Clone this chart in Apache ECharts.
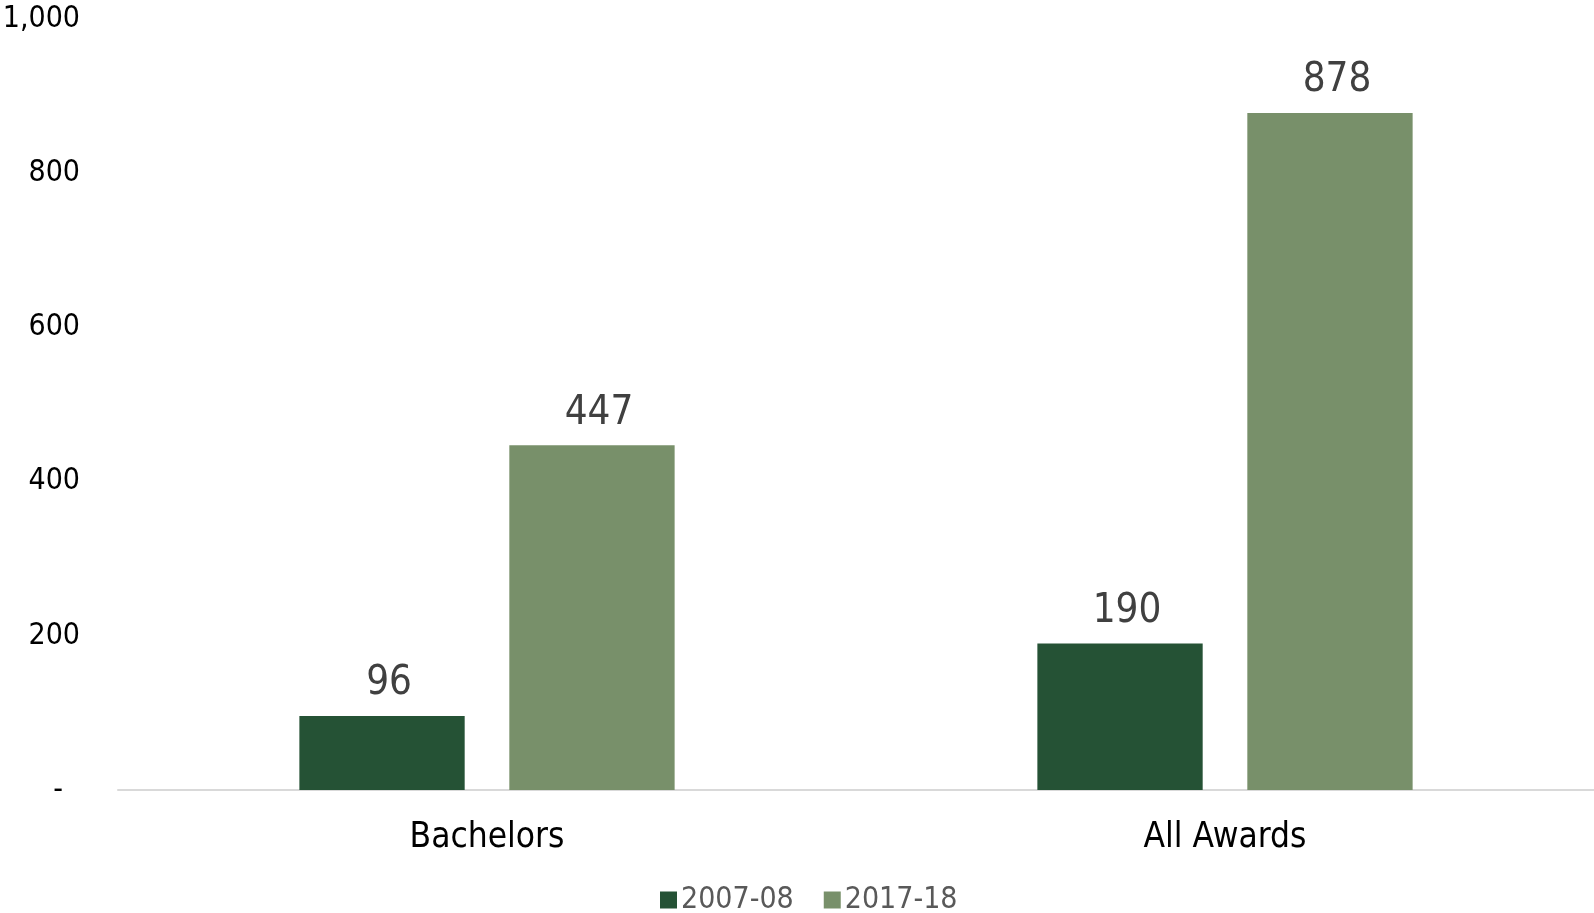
<!DOCTYPE html>
<html><head><meta charset="utf-8">
<script src="https://cdn.jsdelivr.net/npm/echarts@6/dist/echarts.min.js"></script>
<style>html,body{margin:0;padding:0;background:#fff}#c{width:1594px;height:913px}</style>
</head><body><div id="c"></div>
<script>
const categories = ['Bachelors', 'All Awards'];
const seriesNames = ['2007-08', '2017-18'];
const values0708 = [96, 190];
const values1718 = [447, 878];
const yTicks = { min: 0, max: 1000, interval: 200 };

const FONT = '"Liberation Sans Narrow", "DejaVu Sans Condensed", "Liberation Sans", sans-serif';
const chart = echarts.init(document.getElementById('c'));
chart.setOption({
  animation: false,
  grid: { left: 118, right: 0, top: 19, bottom: 123, containLabel: false, outerBoundsMode: 'none' },
  legend: {
    data: seriesNames, left: 655, top: 880, itemWidth: 17, itemHeight: 17, itemGap: 30,
    icon: 'rect',
    textStyle: { fontFamily: FONT, fontSize: 30, color: '#595959', padding: [0, 0, 0, -1] }
  },
  xAxis: {
    type: 'category', data: categories,
    axisLine: { lineStyle: { color: '#d9d9d9', width: 2 } },
    axisTick: { show: false },
    axisLabel: { fontFamily: FONT, fontSize: 35, color: '#000', margin: 30 }
  },
  yAxis: {
    type: 'value', min: yTicks.min, max: yTicks.max, interval: yTicks.interval,
    splitLine: { show: false }, axisLine: { show: false }, axisTick: { show: false },
    axisLabel: {
      fontFamily: FONT, fontSize: 30, color: '#000', margin: 38,
      formatter: v => v === 0 ? '{z|-}' : v.toLocaleString('en-US'),
      rich: { z: { fontFamily: FONT, fontSize: 30, color: '#000', padding: [0, 17, 0, 0] } }
    }
  },
  series: [
    { name: seriesNames[0], type: 'bar', data: values0708, barWidth: '22.4%', barGap: '27%',
      itemStyle: { color: '#255235' },
      label: { show: true, position: 'top', distance: 12, offset: [7, 0], fontFamily: FONT, fontSize: 40, color: '#404040' } },
    { name: seriesNames[1], type: 'bar', data: values1718, barWidth: '22.4%',
      itemStyle: { color: '#78906A' },
      label: { show: true, position: 'top', distance: 12, offset: [7, 0], fontFamily: FONT, fontSize: 40, color: '#404040' } }
  ]
});
</script></body></html>
